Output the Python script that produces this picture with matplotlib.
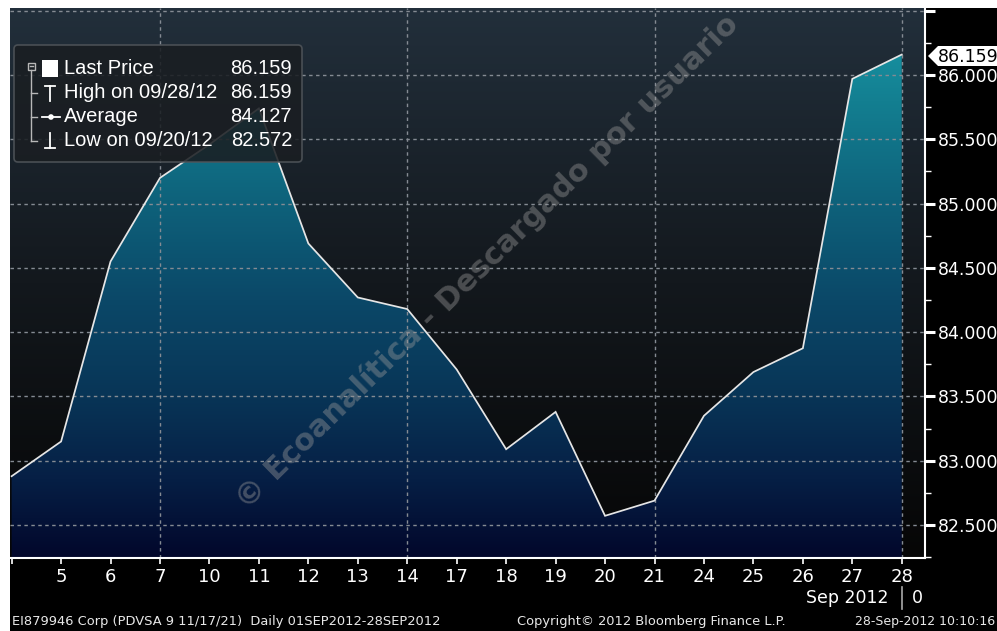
import numpy as np
import matplotlib
matplotlib.use("Agg")
import matplotlib.pyplot as plt
from matplotlib.colors import LinearSegmentedColormap
from matplotlib.patches import Polygon, FancyBboxPatch, Rectangle, Circle

# ---------------- data ----------------
days = [4, 5, 6, 7, 10, 11, 12, 13, 14, 17, 18, 19, 20, 21, 24, 25, 26, 27, 28]
prices = [82.88, 83.15, 84.55, 85.20, 85.46, 85.74, 84.69, 84.27, 84.18, 83.71,
          83.09, 83.38, 82.572, 82.69, 83.35, 83.69, 83.875, 85.97, 86.159]
y_ticks = [82.5, 83.0, 83.5, 84.0, 84.5, 85.0, 85.5, 86.0, 86.5]
week_days = [7, 14, 21, 28]
legend_labels = ["Last Price", "High on 09/28/12", "Average", "Low on 09/20/12"]
legend_values = ["86.159", "86.159", "84.127", "82.572"]
last_price = "86.159"

W, H = 997, 631
plt.rcParams['font.family'] = ['DejaVu Sans']
fig = plt.figure(figsize=(W / 100, H / 100), dpi=100, facecolor='black')

# main axes placement (pixels)
L, R, T, B = 10, 925, 8, 558
ax = fig.add_axes([L / W, 1 - B / H, (R - L) / W, (B - T) / H])
ax.set_facecolor('none')

x = np.arange(len(days))
xmin, xmax = -0.033, 18.47
ymin, ymax = 82.244, 86.521
ax.set_xlim(xmin, xmax)
ax.set_ylim(ymin, ymax)

# background gradient
bg_cmap = LinearSegmentedColormap.from_list(
    'bg', [(0.0, '#222f3b'), (0.5, '#13181d'), (1.0, '#060606')])
grad = np.linspace(0, 1, 256).reshape(-1, 1)
ax.imshow(grad, cmap=bg_cmap, aspect='auto', extent=[xmin, xmax, ymin, ymax],
          origin='upper', zorder=0, interpolation='bilinear')

# fill gradient under line
def frac(py):
    return (py - T) / (B - T)
fill_cmap = LinearSegmentedColormap.from_list('fill', [
    (0.0, '#1a9cab'), (frac(100), '#137f91'), (frac(200), '#0e627b'),
    (frac(300), '#0b4868'), (frac(400), '#083456'), (frac(480), '#061f45'),
    (1.0, '#02072b')])
im = ax.imshow(grad, cmap=fill_cmap, aspect='auto', extent=[xmin, xmax, ymin, ymax],
               origin='upper', zorder=1, interpolation='bilinear')
verts = list(zip(x, prices)) + [(x[-1], ymin), (x[0], ymin)]
poly = Polygon(verts, closed=True, facecolor='none', edgecolor='none',
               transform=ax.transData)
ax.add_patch(poly)
im.set_clip_path(poly)

# grid
for yv in y_ticks:
    ax.axhline(yv, color='#858b93', lw=1, ls=(0, (2.5, 2.5)), zorder=2)
for d in week_days:
    ax.axvline(days.index(d), color='#858b93', lw=1, ls=(0, (2.5, 2.5)), zorder=2)

# price line
ax.plot(x, prices, color='#e6e6e6', lw=1.25, zorder=3, solid_joinstyle='miter')

# spines & ticks
for s in ['top', 'left']:
    ax.spines[s].set_visible(False)
for s in ['right', 'bottom']:
    ax.spines[s].set_color('white')
    ax.spines[s].set_linewidth(1.5)
    ax.spines[s].set_zorder(5)

ax.yaxis.tick_right()
ax.set_yticks(y_ticks)
ax.set_yticklabels(['%.3f' % v if v < 86.4 else '' for v in y_ticks])
minor = [v + 0.25 for v in [82.0] + y_ticks[:-1]]
ax.set_yticks(minor, minor=True)
ax.tick_params(axis='y', which='major', colors='white', length=7, width=2.2,
               labelsize=12.5, pad=2, labelcolor='white')
ax.tick_params(axis='y', which='minor', colors='white', length=4, width=1)

ax.set_xticks(x)
ax.set_xticklabels([''] + [str(d) for d in days[1:]])
ax.tick_params(axis='x', colors='white', length=4, width=1.2, labelsize=13,
               pad=3, labelcolor='white')

# ---------------- overlay (pixel coordinates) ----------------
ov = fig.add_axes([0, 0, 1, 1], zorder=10)
ov.set_xlim(0, W)
ov.set_ylim(H, 0)
ov.axis('off')
ov.set_facecolor('none')

# white margins
ov.add_patch(Rectangle((0, 0), W, T, facecolor='white', edgecolor='none', zorder=0))
ov.add_patch(Rectangle((0, 0), L, H, facecolor='white', edgecolor='none', zorder=0))

# legend box
ov.add_patch(FancyBboxPatch((14, 45), 288, 117, boxstyle='round,pad=0,rounding_size=4',
                            facecolor='#1a1e22', edgecolor='#50555a', lw=1.2,
                            alpha=0.88, zorder=2))
rows = [68, 93, 117, 141]
lf = ['Liberation Sans', 'DejaVu Sans']
for ry, lab, val in zip(rows, legend_labels, legend_values):
    ov.text(64, ry, lab, color='white', fontsize=14.5, family=lf,
            va='center', ha='left', zorder=3)
    ov.text(292, ry, val, color='white', fontsize=14.5, family=lf,
            va='center', ha='right', zorder=3)
tc = '#b8b8b8'
ov.add_patch(Rectangle((27.5, 62.5), 7, 7, facecolor='none', edgecolor=tc, lw=1, zorder=3))
ov.plot([29.5, 32.5], [66, 66], color=tc, lw=1, zorder=3)
ov.plot([31, 31], [70, 141], color=tc, lw=1, zorder=3)
for ry in rows[1:]:
    ov.plot([31, 37], [ry, ry], color=tc, lw=1, zorder=3)
ov.add_patch(Rectangle((42, 60), 16, 17, facecolor='white', edgecolor='none', zorder=3))
ov.plot([50, 50], [86, 101], color='white', lw=1.3, zorder=3)
ov.plot([45, 55], [86, 86], color='white', lw=1.3, zorder=3)
ov.plot([42, 60], [117, 117], color='white', lw=1.3, zorder=3)
ov.add_patch(Circle((51, 117), 2.8, facecolor='white', edgecolor='none', zorder=3))
ov.plot([50, 50], [133, 148], color='white', lw=1.3, zorder=3)
ov.plot([45, 55], [148, 148], color='white', lw=1.3, zorder=3)

# last price tag
ov.add_patch(Polygon([(928, 56), (938, 46), (997, 46), (997, 66), (938, 66)],
                     closed=True, facecolor='white', edgecolor='none', zorder=3))
ov.text(938, 56.5, last_price, color='black', fontsize=12.5, va='center', ha='left', zorder=4)

# month label
ov.text(888, 598, 'Sep 2012', color='white', fontsize=12.5, va='center', ha='right')
ov.plot([902, 902], [587, 609], color='#aaaaaa', lw=1.2)
ov.text(912, 598, '0', color='white', fontsize=12.5, va='center', ha='left')

# footer
ov.text(12, 622, 'EI879946 Corp (PDVSA 9 11/17/21)  Daily 01SEP2012-28SEP2012',
        color='#e8e8e8', fontsize=9.4, va='center', ha='left')
ov.text(517, 622, 'Copyright\u00a9 2012 Bloomberg Finance L.P.',
        color='#e8e8e8', fontsize=9.4, va='center', ha='left')
ov.text(855, 622, '28-Sep-2012 10:10:16', color='#e8e8e8', fontsize=9.0,
        va='center', ha='left')

# watermark
ov.text(487, 262, '\u00a9 Ecoanal\u00edtica - Descargado por usuario', color='#999999',
        alpha=0.42, fontsize=22, fontweight='bold', rotation=44.5,
        rotation_mode='anchor', ha='center', va='center', zorder=5)

fig.savefig('out.png', dpi=100, facecolor='black')
